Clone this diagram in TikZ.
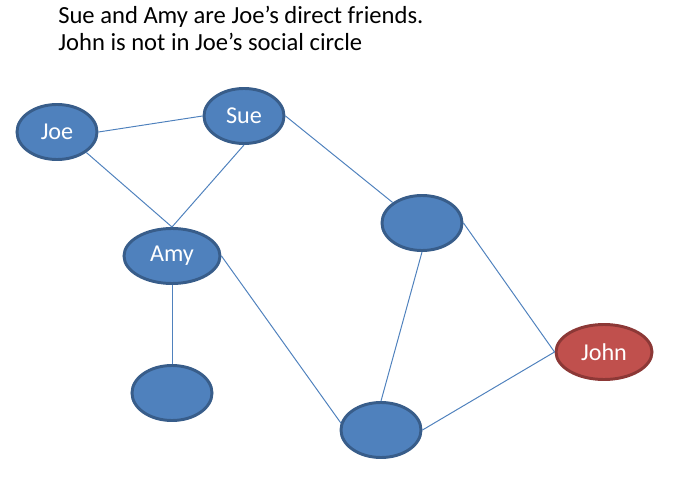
\documentclass[tikz,border=0pt]{standalone}
\usepackage{fontspec}
\setmainfont{Carlito}
\usetikzlibrary{shapes.geometric}

\definecolor{nodeblue}{HTML}{4F81BD}
\definecolor{nodeborder}{HTML}{385D8A}
\definecolor{johnred}{HTML}{C0504D}
\definecolor{johnborder}{HTML}{8C3836}

\begin{document}
\begin{tikzpicture}[x=0.025cm,y=-0.025cm,
    person/.style={ellipse,draw=nodeborder,fill=nodeblue,line width=2.1pt,
      inner sep=0pt,minimum width=2.0cm,minimum height=1.375cm,
      text=white,font=\fontsize{17.2}{20}\selectfont},
    wide/.style={minimum width=2.4cm},
    outsider/.style={draw=johnborder,fill=johnred},
    link/.style={draw=nodeblue,line width=0.7pt},
    caption/.style={anchor=base west,inner sep=0pt,font=\fontsize{17.5}{20}\selectfont}]
                            \useasboundingbox (0,0) rectangle (678,479);

                            \path
                            (58,23.3) node[caption](line1) {Sue and Amy are Joe’s direct friends.}
                            (58,50.3) node[caption](line2) {John is not in Joe’s social circle}
                            (57,132) node[person](joe) {Joe}
                            (244,116) node[person](sue) {Sue}
                            (172,256) node[person,wide](amy) {Amy}
                            (422,223) node[person](mid) {}
                            (604,352) node[person,wide,outsider](john) {John}
                            (381,430) node[person](low) {}
                            (172,393) node[person](left) {};

                            \draw[link] (joe.east) -- (sue.west);
                            \draw[link] (joe.south east) -- (amy.north);
                            \draw[link] (sue.south) -- (amy.north);
                            \draw[link] (sue.east) -- (mid.north west);
                            \draw[link] (amy.south) -- (left.north);
                            \draw[link] (amy.east) -- (low.170);
                            \draw[link] (mid.east) -- (john.west);
                            \draw[link] (mid.south) -- (low.north);
                            \draw[link] (low.east) -- (john.west);
                        \end{tikzpicture}
\end{document}
